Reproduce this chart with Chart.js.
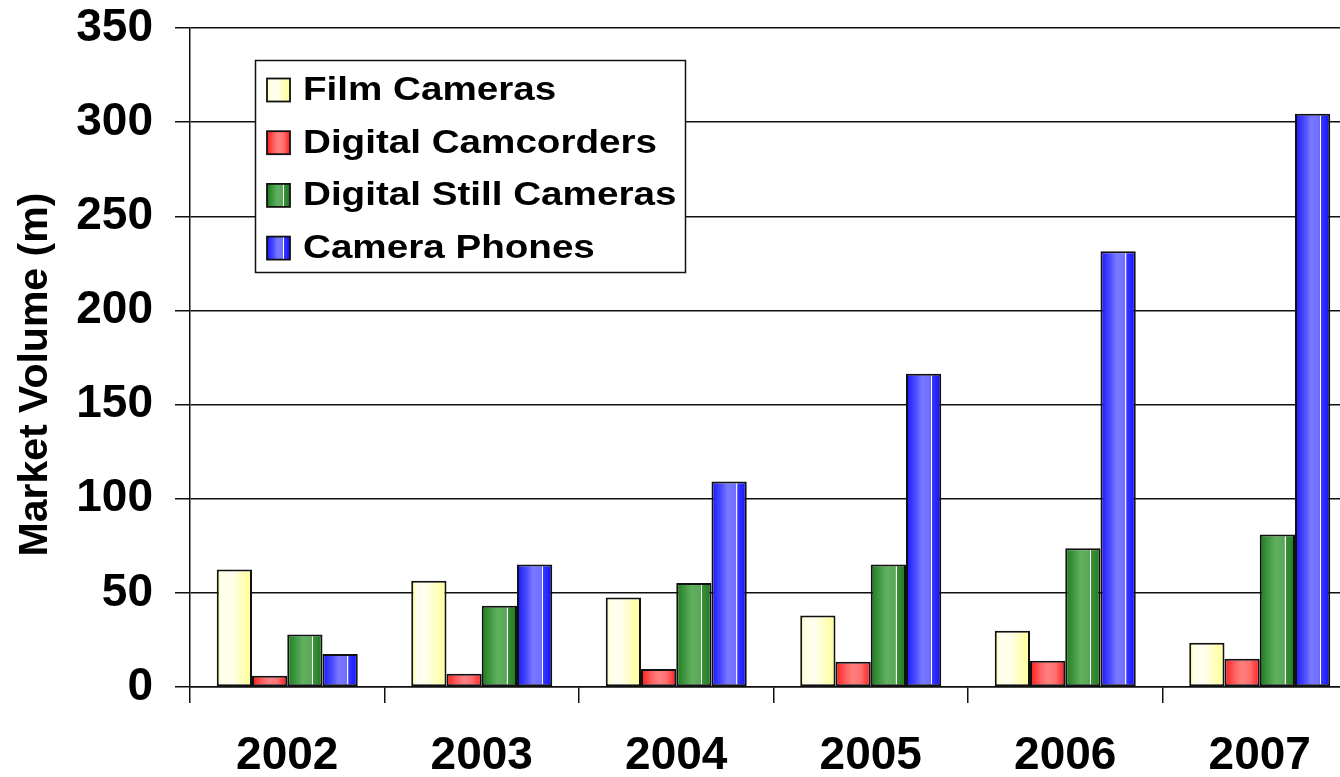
<!DOCTYPE html>
<html>
<head>
<meta charset="utf-8">
<script src="https://cdn.jsdelivr.net/npm/chart.js@4.4.1/dist/chart.umd.min.js"></script>
<style>
  html, body { margin: 0; padding: 0; background: #ffffff; overflow: hidden; }
  #wrap { position: relative; width: 1360px; height: 777px; }
</style>
</head>
<body>
<div id="wrap"><canvas id="c"></canvas></div>
<script>
// ---- data ----
const categories = ['2002', '2003', '2004', '2005', '2006', '2007'];
const seriesNames = ['Film Cameras', 'Digital Camcorders', 'Digital Still Cameras', 'Camera Phones'];
const filmCameras = [62.4, 56.4, 47.6, 38.0, 29.9, 23.5];
const digitalCamcorders = [6.0, 7.1, 9.5, 13.4, 14.0, 15.0];
const digitalStillCameras = [27.9, 43.1, 55.3, 65.1, 73.7, 81.0];
const cameraPhones = [17.5, 65.1, 109.2, 166.4, 231.4, 304.4];
const yTicks = [0, 50, 100, 150, 200, 250, 300, 350];
const yTitle = 'Market Volume (m)';

// ---- styles ----
const FONT = '"Liberation Sans", Arial, Helvetica, sans-serif';
const baseColors = ['#ffffb0', '#ff5050', '#3a9a3a', '#4a4aff'];
const gradStops = [
  [[0, '#ffffa0'], [0.12, '#ffffcc'], [0.13, '#ffffff'], [0.17, '#ffffff'], [0.18, '#ffffe4'], [0.4, '#fffff2'], [0.75, '#ffffb8'], [1, '#ffff96']],
  [[0, '#ff1a1a'], [0.3, '#ff6262'], [0.5, '#ff8080'], [0.72, '#ff7070'], [1, '#ff1a1a']],
  [[0, '#1b7a1b'], [0.3, '#4b9f4b'], [0.45, '#60b060'], [0.68, '#58a858'], [0.7, '#4fa04f'], [0.71, '#ffffff'], [0.73, '#ffffff'], [0.74, '#3c8f3c'], [1, '#1c7c1c']],
  [[0, '#1515ff'], [0.3, '#5252ff'], [0.45, '#7878ff'], [0.68, '#7070ff'], [0.7, '#6060ff'], [0.71, '#ffffff'], [0.73, '#ffffff'], [0.74, '#3838ff'], [1, '#1010ff']]
];

function makeGrad(ctx, idx, x0, x1) {
  const g = ctx.createLinearGradient(x0, 0, x1, 0);
  gradStops[idx].forEach(s => g.addColorStop(s[0], s[1]));
  return g;
}

const values = [filmCameras, digitalCamcorders, digitalStillCameras, cameraPhones];

const gradientPlugin = {
  id: 'barGradient',
  beforeDatasetsDraw(chart) {
    const ctx = chart.ctx;
    chart.data.datasets.forEach((ds, i) => {
      const meta = chart.getDatasetMeta(i);
      meta.data.forEach(el => {
        const p = el.getProps(['x', 'width'], true);
        const g = makeGrad(ctx, i, p.x - p.width / 2, p.x + p.width / 2);
        el.options = Object.assign({}, el.options, { backgroundColor: g });
      });
    });
  }
};

const legendPlugin = {
  id: 'boxLegend',
  afterDraw(chart) {
    const ctx = chart.ctx;
    ctx.save();
    const bx = 255.5, by = 60.5, bw = 430, bh = 212;
    ctx.fillStyle = '#ffffff';
    ctx.fillRect(bx, by, bw, bh);
    ctx.strokeStyle = '#111111';
    ctx.lineWidth = 1.5;
    ctx.strokeRect(bx, by, bw, bh);
    chart.data.datasets.forEach((ds, i) => {
      const cy = 90 + i * 52.7;
      const sx = 267, sw = 23;
      ctx.fillStyle = makeGrad(ctx, i, sx, sx + sw);
      ctx.fillRect(sx, cy - sw / 2, sw, sw);
      ctx.strokeStyle = '#111111';
      ctx.lineWidth = 1.8;
      ctx.strokeRect(sx, cy - sw / 2, sw, sw);
      ctx.save();
      ctx.translate(303, cy);
      ctx.scale(1.17, 1);
      ctx.fillStyle = '#000000';
      ctx.font = 'bold 33px ' + FONT;
      ctx.textBaseline = 'middle';
      ctx.textAlign = 'left';
      ctx.fillText(ds.label, 0, 1);
      ctx.restore();
    });
    ctx.restore();
  }
};

const datasets = seriesNames.map((name, i) => ({
  label: name,
  data: values[i],
  backgroundColor: baseColors[i],
  borderColor: '#111111',
  borderWidth: 2,
  borderSkipped: false,
  categoryPercentage: 0.725,
  barPercentage: 1.0
}));

new Chart(document.getElementById('c'), {
  type: 'bar',
  data: { labels: categories, datasets },
  plugins: [gradientPlugin, legendPlugin],
  options: {
    responsive: true,
    maintainAspectRatio: false,
    animation: false,
    layout: { padding: { top: 28, right: 3, left: 0, bottom: 0 } },
    plugins: {
      legend: { display: false },
      tooltip: { enabled: false },
      title: { display: false }
    },
    scales: {
      x: {
        type: 'category',
        grid: {
          display: true,
          drawOnChartArea: false,
          drawTicks: true,
          tickLength: 16,
          color: '#111111',
          lineWidth: 1.5,
          offset: true
        },
        border: { display: true, color: '#111111', width: 1.5 },
        ticks: {
          color: '#000000',
          padding: 26,
          maxRotation: 0,
          font: { family: FONT, size: 46, weight: 'bold' }
        },
        afterFit(s) { s.height = 90; s.paddingLeft = 0; s.paddingRight = 0; }
      },
      y: {
        min: 0,
        max: 350,
        afterBuildTicks(s) { s.ticks = yTicks.map(v => ({ value: v })); },
        grid: {
          color: '#111111',
          lineWidth: 1.5,
          tickLength: 15,
          drawTicks: true
        },
        border: { display: true, color: '#111111', width: 1.5 },
        ticks: {
          color: '#000000',
          padding: 22,
          font: { family: FONT, size: 46, weight: 'bold' }
        },
        title: {
          display: true,
          text: yTitle + '\u00a0\u00a0\u00a0',
          color: '#000000',
          padding: { top: 11, bottom: 0 },
          font: { family: FONT, size: 41, weight: 'bold', lineHeight: 1.2 }
        },
        afterFit(s) { s.width = 190; s.paddingTop = 0; s.paddingBottom = 0; }
      }
    }
  }
});
</script>
</body>
</html>
